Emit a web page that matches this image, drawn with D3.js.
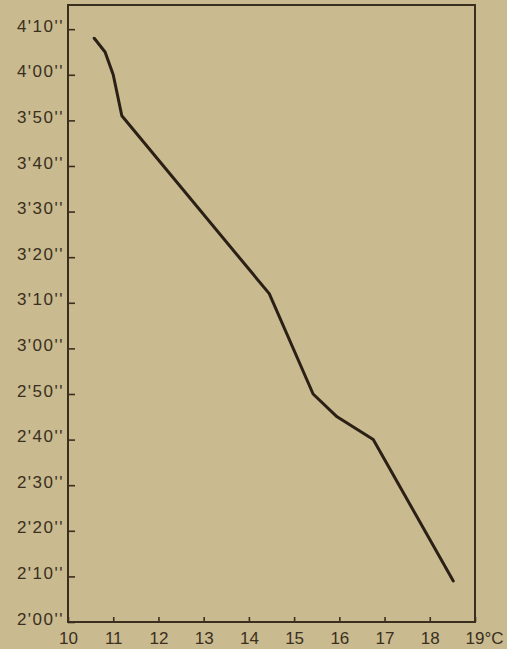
<!DOCTYPE html>
<html>
<head>
<meta charset="utf-8">
<script src="https://cdn.jsdelivr.net/npm/d3@7"></script>
<style>
    html, body { margin: 0; padding: 0; background: #c9ba8f; }
    svg { display: block; }
    .axis text { font-family: "Liberation Sans", Arial, sans-serif; font-size: 17px; fill: #3a2f20; }
</style>
</head>
<body>
<div id="view"></div>
<script>
// temperature (°C) against time (seconds)
const temps = [10.58, 10.82, 11.0, 11.19, 14.45, 15.42, 15.95, 16.75, 18.52];
const times = [248, 245, 240, 231, 192, 170, 165, 160, 129];
const xTicks = [10, 11, 12, 13, 14, 15, 16, 17, 18, 19];
const yTicks = [120, 130, 140, 150, 160, 170, 180, 190, 200, 210, 220, 230, 240, 250];

// set the dimensions and margins of the graph
const margin = {top: 5, right: 32, bottom: 27, left: 68};
const width = 507 - margin.left - margin.right;
const height = 649 - margin.top - margin.bottom;

const svg = d3.select("#view")
    .append("svg")
        .attr("width", width + margin.left + margin.right)
        .attr("height", height + margin.top + margin.bottom)
    .append("g")
        .attr("transform", `translate(${margin.left},${margin.top})`);

const ink = "#3a2e1e";

// X axis
const x = d3.scaleLinear().domain([10, 19]).range([0, width]);
const xAxis = svg.append("g")
    .attr("class", "axis")
    .attr("transform", `translate(0, ${height})`)
    .call(d3.axisBottom(x)
        .tickValues(xTicks)
        .tickSize(-5)
        .tickPadding(10)
        .tickFormat(d => d === 19 ? "19°C" : d));
xAxis.selectAll("text").filter(d => d === 19)
    .attr("text-anchor", "start")
    .attr("x", -10);

// Y axis
const y = d3.scaleLinear().domain([120, 255.3]).range([height, 0]);
const fmt = s => `${Math.floor(s / 60)}'${String(s % 60).padStart(2, "0")}''`;
const yAxis = svg.append("g")
    .attr("class", "axis")
    .call(d3.axisLeft(y)
        .tickValues(yTicks)
        .tickSize(-7)
        .tickPadding(4)
        .tickFormat(fmt));
yAxis.selectAll("text").attr("dy", "0.12em").attr("letter-spacing", "1.5px");

svg.selectAll(".axis .domain").remove();
svg.selectAll(".axis line").attr("stroke", ink).attr("stroke-width", 1.6);

// frame
svg.append("rect")
    .attr("width", width)
    .attr("height", height)
    .attr("fill", "none")
    .attr("stroke", ink)
    .attr("stroke-width", 2);

// curve
const pts = temps.map((t, i) => ({t: t, s: times[i]}));
svg.append("path")
    .datum(pts)
    .attr("fill", "none")
    .attr("stroke", "#2b2016")
    .attr("stroke-width", 3)
    .attr("stroke-linejoin", "round")
    .attr("stroke-linecap", "round")
    .attr("d", d3.line()
        .x(d => x(d.t))
        .y(d => y(d.s)));
</script>
</body>
</html>
